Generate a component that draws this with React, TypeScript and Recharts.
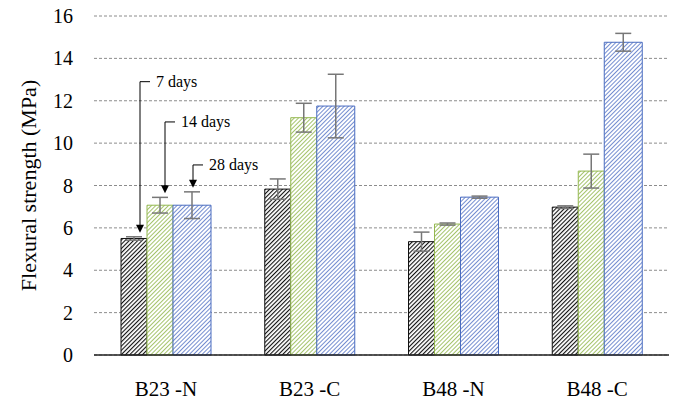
import React from 'react';
import { BarChart, Bar, XAxis, YAxis, CartesianGrid, ErrorBar, LabelList } from 'recharts';

const categories = ['B23 -N', 'B23 -C', 'B48 -N', 'B48 -C'];
const day7 = [5.5, 7.83, 5.35, 6.98];
const day7Err = [0.08, 0.48, 0.45, 0.06];
const day14 = [7.07, 11.2, 6.18, 8.68];
const day14Err = [0.37, 0.68, 0.05, 0.8];
const day28 = [7.07, 11.75, 7.45, 14.76];
const day28Err = [0.63, 1.5, 0.05, 0.42];
const annotationText = ['7 days', '14 days', '28 days'];
const annotationLevel = [12.9, 11.0, 8.97];
const yTicks = [0, 2, 4, 6, 8, 10, 12, 14, 16];

const data = categories.map((c, i) => ({
  name: c,
  d7: day7[i],
  e7: day7Err[i],
  d14: day14[i],
  e14: day14Err[i],
  d28: day28[i],
  e28: day28Err[i],
}));

const FONT = 'Liberation Serif, Tinos, Times New Roman, serif';

const makeArrow = (series: number, errs: number[], offset: number) => (props: any) => {
  const { x, y, width, height, value, index } = props;
  if (index !== 0) return null;
  const pxPerUnit = height / value;
  const base = y + height;
  const toPx = (v: number) => base - v * pxPerUnit;
  const ax = x + offset;
  const tickY = toPx(annotationLevel[series]);
  const tipY = toPx(value + errs[index]) - 4;
  return (
    <g>
      <line x1={ax} y1={tickY} x2={ax} y2={tipY - 7} stroke="#000" strokeWidth={1} />
      <line x1={ax} y1={tickY} x2={ax + 10} y2={tickY} stroke="#000" strokeWidth={1} />
      <path d={`M${ax - 4},${tipY - 8} L${ax + 4},${tipY - 8} L${ax},${tipY} Z`} fill="#000" />
      <text x={ax + 16} y={tickY} style={{ fontFamily: FONT, fontSize: 16 }} fill="#000" dominantBaseline="central">
        {annotationText[series]}
      </text>
    </g>
  );
};

const YLabel = (props: any) => {
  const vb = props.viewBox || {};
  const cy = vb.y + vb.height / 2;
  const cx = 28;
  return (
    <text x={cx} y={cy} transform={`rotate(-90, ${cx}, ${cy})`} textAnchor="middle" dominantBaseline="central"
      style={{ fontFamily: FONT, fontSize: 22 }} fill="#000">
      Flexural strength (MPa)
    </text>
  );
};

export default function App() {
  return (
    <div style={{ position: 'absolute', left: 0, top: 0, background: '#fff', fontFamily: FONT }}>
      <BarChart width={678} height={401} data={data} margin={{ top: 16, right: 9, bottom: 0, left: 0 }} barGap={0}
        style={{ fontFamily: FONT }}>
        <defs>
          <pattern id="hBlack" patternUnits="userSpaceOnUse" width="3" height="3" patternTransform="rotate(45)">
            <rect width="3" height="3" fill="#fff" />
            <line x1="0" y1="0" x2="0" y2="3" stroke="#111" strokeWidth="2.2" />
          </pattern>
          <pattern id="hGreen" patternUnits="userSpaceOnUse" width="3" height="3" patternTransform="rotate(45)">
            <rect width="3" height="3" fill="#fff" />
            <line x1="0" y1="0" x2="0" y2="3" stroke="#94b850" strokeWidth="1.7" />
          </pattern>
          <pattern id="hBlue" patternUnits="userSpaceOnUse" width="3" height="3" patternTransform="rotate(45)">
            <rect width="3" height="3" fill="#fff" />
            <line x1="0" y1="0" x2="0" y2="3" stroke="#5b78c8" strokeWidth="1.7" />
          </pattern>
        </defs>
        <CartesianGrid vertical={false} stroke="#8c8c8c" strokeDasharray="3 2" />
        <XAxis dataKey="name" height={46} tickLine={false} axisLine={{ stroke: '#222', strokeWidth: 1.5 }}
          tickMargin={20} tick={{ fontSize: 21, fontFamily: FONT, fill: '#000' }} />
        <YAxis width={94} domain={[0, 16]} ticks={yTicks} axisLine={false} tickLine={false} tickMargin={15}
          tick={{ fontSize: 20, fontFamily: FONT, fill: '#000' }} label={<YLabel />} />
        <Bar dataKey="d7" barSize={26} fill="url(#hBlack)" stroke="#111" strokeWidth={1} isAnimationActive={false}>
          <ErrorBar dataKey="e7" width={8} stroke="#777" strokeWidth={1.5} />
          <LabelList dataKey="d7" content={makeArrow(0, day7Err, 19)} />
        </Bar>
        <Bar dataKey="d14" barSize={26} fill="url(#hGreen)" stroke="#94b850" strokeWidth={1} isAnimationActive={false}>
          <ErrorBar dataKey="e14" width={8} stroke="#777" strokeWidth={1.5} />
          <LabelList dataKey="d14" content={makeArrow(1, day14Err, 18)} />
        </Bar>
        <Bar dataKey="d28" barSize={38} fill="url(#hBlue)" stroke="#4a6cc0" strokeWidth={1} isAnimationActive={false}>
          <ErrorBar dataKey="e28" width={8} stroke="#777" strokeWidth={1.5} />
          <LabelList dataKey="d28" content={makeArrow(2, day28Err, 20)} />
        </Bar>
      </BarChart>
    </div>
  );
}
